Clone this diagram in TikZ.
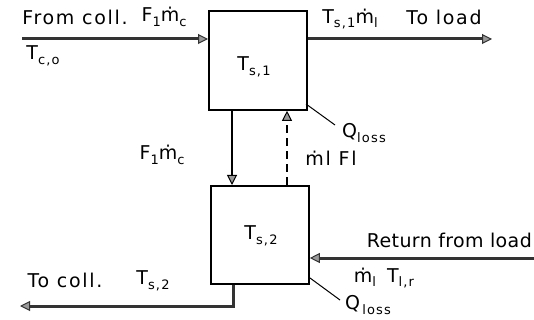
\documentclass[tikz,border=0pt]{standalone}
\usepackage{fontspec}
\setmainfont[LetterSpace=9]{DejaVu Sans}
\usetikzlibrary{arrows.meta}
\newcommand{\lbsub}[1]{\raisebox{-0.45ex}{\fontsize{13}{14}\selectfont #1}}
\begin{document}
\begin{tikzpicture}[x=1pt,y=-1pt,
  tank/.style={draw,line width=1.8pt},
  flow/.style={line width=3pt,draw=black!80,
    -{Triangle[length=10pt,width=10pt,fill=black!40,line width=1pt]}},
  link/.style={line width=2.8pt,
    -{Triangle[length=10pt,width=10pt,fill=black!40,line width=1pt]}},
  lossline/.style={line width=1pt},
  lbl/.style={font=\fontsize{19}{21}\selectfont,inner sep=0pt}]
\useasboundingbox (0,0) rectangle (534,320);

% storage tank, two nodes
\node[tank,minimum width=98pt,minimum height=99pt,anchor=north west] (top) at (208,10) {};
\node[tank,minimum width=98pt,minimum height=98pt,anchor=north west] (bot) at (210,185) {};
\node[lbl] (ts1) at (254,67) {T\lbsub{s,1}};
\node[lbl] (ts2) at (261,236) {T\lbsub{s,2}};

% free ends of the flow lines
\coordinate (collin) at (22,39);
\coordinate (loadout) at (492,39);
\coordinate (loadret) at (534,258);
\coordinate (collout) at (20,306);
\coordinate (q1a) at (306,104);
\coordinate (q1b) at (335,125);
\coordinate (q2a) at (310,278);
\coordinate (q2b) at (340,300);

% collector loop and load loop
\draw[flow] (collin) -- (top.west |- collin);
\draw[flow] (top.east |- loadout) -- (loadout);
\draw[flow] (loadret) -- (bot.east |- loadret);
\draw[flow] (bot.south -| 233,0) -- (233,306) -- (collout);

% exchange between the nodes
\draw[link] (top.south -| 232,0) -- (bot.north -| 232,0);
\draw[link,dash pattern=on 8pt off 5pt] (bot.north -| 287,0) -- (top.south -| 287,0);

% losses
\draw[lossline] (q1a) -- (q1b);
\draw[lossline] (q2a) -- (q2b);

% labels
\node[lbl] (fromcoll) at (75,17) {From coll.};
\node[lbl] (f1a) at (164,17) {F\lbsub{1}ṁ\lbsub{c}};
\node[lbl] (tco) at (43,56) {T\lbsub{c,o}};
\node[lbl] (ts1m) at (350,19) {T\lbsub{s,1}ṁ\lbsub{l}};
\node[lbl] (toload) at (444,17) {To load};
\node[lbl,anchor=west] (qloss1) at (342,133) {Q\lbsub{loss}};
\node[lbl] (f1b) at (162,155) {F\lbsub{1}ṁ\lbsub{c}};
\node[lbl] (mlfl) at (331,158) {ṁl Fl};
\node[lbl,anchor=east] (retload) at (532,240) {\addfontfeatures{LetterSpace=2}Return from load};
\node[lbl] (mltlr) at (384,278) {ṁ\lbsub{l} \,T\lbsub{l,r}};
\node[lbl,anchor=west] (qloss2) at (345,305) {Q\lbsub{\,loss}};
\node[lbl] (tocoll) at (65,280) {To coll.};
\node[lbl] (ts2b) at (153,281) {T\lbsub{s,2}};
\end{tikzpicture}
\end{document}
